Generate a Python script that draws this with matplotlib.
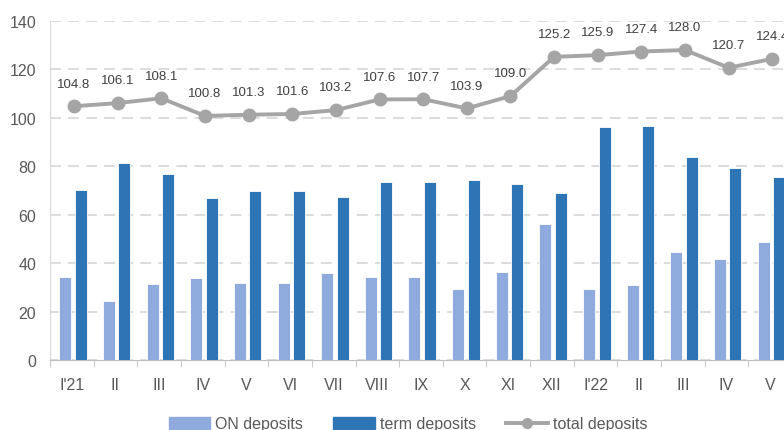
import matplotlib
matplotlib.use("Agg")
import matplotlib.pyplot as plt
from matplotlib.lines import Line2D
from matplotlib.patches import Patch
import numpy as np

categories = ["I'21", "II", "III", "IV", "V", "VI", "VII", "VIII", "IX", "X", "XI", "XII",
              "I'22", "II", "III", "IV", "V"]
on_deposits = [34.2, 24.5, 31.2, 33.8, 31.7, 31.7, 36.0, 34.2, 34.2, 29.4, 36.5, 56.3,
               29.4, 30.8, 44.4, 41.7, 48.8]
term_deposits = [70.4, 81.4, 76.9, 66.8, 70.0, 70.0, 67.2, 73.5, 73.5, 74.3, 72.5, 69.0,
                 96.2, 96.7, 84.0, 79.1, 75.7]
total_deposits = [104.8, 106.1, 108.1, 100.8, 101.3, 101.6, 103.2, 107.6, 107.7, 103.9, 109.0,
                  125.2, 125.9, 127.4, 128.0, 120.7, 124.4]

plt.rcParams['font.family'] = ['Liberation Sans', 'DejaVu Sans']

fig = plt.figure(figsize=(7.84, 4.31), dpi=100)
ax = fig.add_axes([50/784, 70/431, 742/784, 339/431])

x = np.arange(len(categories))
c_on = '#8faadc'
c_term = '#2e75b6'
c_tot = '#a5a5a5'
w = 0.275
ax.bar(x - 0.15, on_deposits, width=w, color=c_on, edgecolor='white', linewidth=0.6, zorder=3)
ax.bar(x + 0.205, term_deposits, width=w, color=c_term, edgecolor='white', linewidth=0.6, zorder=3)
ax.plot(x + 0.05, total_deposits, color=c_tot, linewidth=2.8, marker='o', markersize=9,
        zorder=4)
for xi, v in zip(x, total_deposits):
    ax.annotate(f"{v:.1f}", (xi + 0.05, v), xytext=(0, 12), textcoords='offset points',
                ha='center', va='bottom', fontsize=9.5, color='#404040', zorder=5,
                annotation_clip=False)

ax.set_xlim(-0.5, len(categories) - 0.5)
ax.set_ylim(0, 140)
ax.set_yticks(range(0, 141, 20))
ax.yaxis.grid(True, color='#d9d9d9', linestyle=(0, (6, 4)), linewidth=1.3, zorder=0)
ax.set_axisbelow(True)
for s in ['top', 'right']:
    ax.spines[s].set_visible(False)
ax.spines['left'].set_color('#d9d9d9')
ax.spines['bottom'].set_color('#bfbfbf')
ax.tick_params(axis='y', length=0, labelsize=11.5, labelcolor='#595959', pad=10)
ax.set_xticks(x)
ax.set_xticklabels(categories)
ax.set_xticks(np.arange(-0.5, len(categories), 1), minor=True)
ax.tick_params(axis='x', which='major', length=0, labelsize=11.5, labelcolor='#595959', pad=12)
ax.tick_params(axis='x', which='minor', length=5, color='#bfbfbf')

handles = [Patch(color=c_on, label='ON deposits'),
           Patch(color=c_term, label='term deposits'),
           Line2D([], [], color=c_tot, linewidth=2.8, marker='o', markersize=7, label='total deposits')]
fig.legend(handles=handles, loc='center', bbox_to_anchor=(408/784, 1 - 425/431), ncol=3,
           frameon=False, fontsize=11.5, labelcolor='#595959', handlelength=2.6,
           handleheight=0.8, columnspacing=1.9, handletextpad=0.3)

fig.savefig('out.png', dpi=100)
